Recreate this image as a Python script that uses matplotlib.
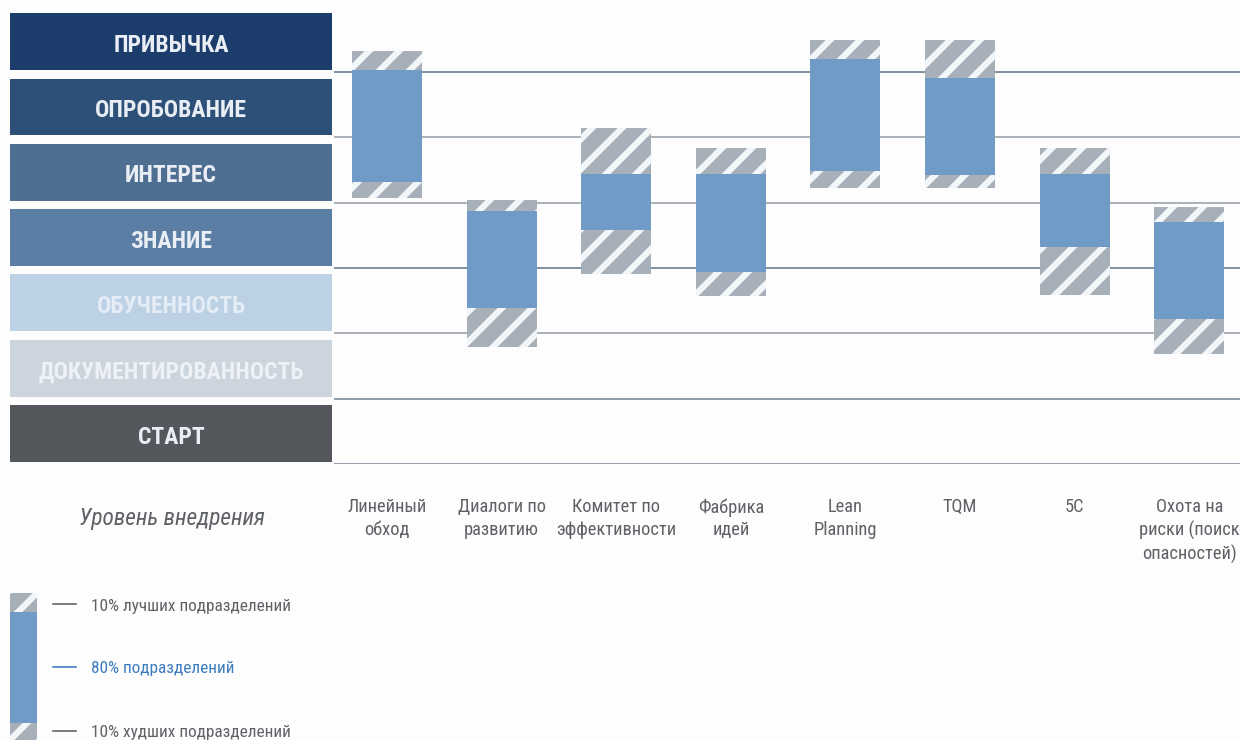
import numpy as np
import matplotlib
import matplotlib.pyplot as plt
from matplotlib import font_manager as fm
matplotlib.use('Agg')

plt.rcParams['hatch.linewidth'] = 5.0

# data (levels: 0 = СТАРТ ... 6 = ПРИВЫЧКА)
levels = ['СТАРТ', 'ДОКУМЕНТИРОВАННОСТЬ', 'ОБУЧЕННОСТЬ', 'ЗНАНИЕ',
          'ИНТЕРЕС', 'ОПРОБОВАНИЕ', 'ПРИВЫЧКА']
level_colors = ['#54585c', '#ccd5de', '#bdd1e5', '#5a7ea4',
                '#4e6f92', '#2d5079', '#1c3d6b']
level_text = ['#e9eef5', '#eef2f6', '#e4ecf5', '#e9eef5',
              '#e9eef5', '#e9eef5', '#e9eef5']

categories = ['Линейный\nобход', 'Диалоги по\nразвитию', 'Комитет по\nэффективности',
              'Фабрика\nидей', 'Lean\nPlanning', 'TQM', '5C',
              'Охота на\nриски (поиск\nопасностей)']
best = np.array([6.32, 4.04, 5.15, 4.84, 6.49, 6.49, 4.84, 3.93])
p90 = np.array([6.03, 3.87, 4.44, 4.44, 6.20, 5.91, 4.44, 3.70])
p10 = np.array([4.32, 2.38, 3.58, 2.94, 4.48, 4.42, 3.32, 2.22])
worst = np.array([4.07, 1.79, 2.90, 2.57, 4.22, 4.23, 2.58, 1.68])

legend_labels = ['10% лучших подразделений', '80% подразделений',
                 '10% худших подразделений']

BLUE = '#6f9bc6'
HATCH_BG = '#a7b0b9'
STRIPE = '#f3f6f9'
TXT = '#5e6166'


def find_font(bold=False, italic=False):
    # look for a narrow / condensed face, else plain DejaVu Sans
    prefs = ['robotocondensed', 'liberationsansnarrow', 'notosans-condensed',
             'dejavusanscondensed', 'condensed', 'narrow']
    best_f, best_score = None, None
    for f in fm.fontManager.ttflist:
        fn = f.fname.lower().replace(' ', '')
        base = fn.split('/')[-1]
        if 'condensed' not in base and 'narrow' not in base:
            continue
        if 'semicondensed' in base or 'extracondensed' in base:
            continue
        if 'mono' in base or 'serif' in base:
            continue
        w = f.weight if isinstance(f.weight, int) else (700 if 'bold' in str(f.weight) else 400)
        is_bold = w >= 600 and 'semibold' not in base and 'extrabold' not in base
        is_it = f.style in ('italic', 'oblique')
        if is_bold != bold or is_it != italic:
            continue
        score = next(i for i, p in enumerate(prefs) if p in base)
        if best_score is None or score < best_score:
            best_f, best_score = f, score
    if best_f is None:
        return fm.FontProperties(family='DejaVu Sans',
                                 weight='bold' if bold else 'normal',
                                 style='italic' if italic else 'normal')
    return fm.FontProperties(fname=best_f.fname)


fp_box = find_font(bold=True)
fp_reg = find_font()
fp_it = find_font(italic=True)

# dpi 90 so that the '/' hatch gets ~15 px between stripes
W, H, DPI = 1240, 741, 90
fig = plt.figure(figsize=(W / DPI, H / DPI), dpi=DPI, facecolor='#fdfdfd')
renderer = fig.canvas.get_renderer()


def fit(t, target_px, max_size):
    # shrink a text so its width is about target_px
    t.set_fontsize(max_size)
    w = t.get_window_extent(renderer).width
    if w > target_px:
        t.set_fontsize(max_size * target_px / w)
    return t.get_fontsize()


# main chart
ax = fig.add_axes([334 / W, 1 - 464.8 / H, 906 / W, 457 / H])
ax.set_facecolor('none')
x = np.arange(len(categories))
line_colors = ['#8f9aa6', '#8a97a6', '#a6aeb6', '#7d8c9e',
               '#a6aeb6', '#a6aeb6', '#7d8c9e']
for lv in range(7):
    ax.axhline(lv, color=line_colors[lv], lw=1.5, zorder=1)

bw = 0.61
ax.bar(x, best - p90, bottom=p90, width=bw, color=HATCH_BG, edgecolor=STRIPE,
       hatch='/', lw=0, zorder=2)
ax.bar(x, p90 - p10, bottom=p10, width=bw, color=BLUE, lw=0, zorder=2)
ax.bar(x, p10 - worst, bottom=worst, width=bw, color=HATCH_BG, edgecolor=STRIPE,
       hatch='/', lw=0, zorder=2)

ax.set_xlim(-0.4625, 7.443)
ax.set_ylim(0, 7)
ax.set_xticks(x, categories)
ax.tick_params(axis='x', length=0, pad=26.7)
ax.set_yticks([])
for s in ax.spines.values():
    s.set_visible(False)

# size of category labels: "эффективности" should be ~119 px wide
probe = fig.text(0, 0, 'эффективности', fontproperties=fp_reg)
cat_size = fit(probe, 119, 16.8)
probe.remove()
for lab in ax.get_xticklabels():
    lab.set_fontproperties(fp_reg)
    lab.set_fontsize(cat_size)
    lab.set_color(TXT)
    lab.set_linespacing(1.32)

# level boxes on the left
axl = fig.add_axes([10 / W, 1 - 464.8 / H, 322 / W, 457 / H])
axl.set_xlim(0, 1)
axl.set_ylim(0, 7)
axl.axis('off')
ypos = np.arange(len(levels)) + 0.465
axl.barh(ypos, 1, height=0.87, left=0, color=level_colors, lw=0)
box_texts = []
for y, name, tc in zip(ypos, levels, level_text):
    box_texts.append(axl.text(0.5, y - 0.04, name, ha='center', va='center',
                              color=tc, fontproperties=fp_box))
box_size = fit(box_texts[1], 265, 24)
for t in box_texts:
    t.set_fontsize(box_size)

t = fig.text(172 / W, 1 - 518 / H, 'Уровень внедрения', ha='center', va='center',
             fontproperties=fp_it, color=TXT)
fit(t, 186, 21.3)

# legend key
axg = fig.add_axes([0, 0, 320 / W, 161 / H])
axg.set_xlim(0, 320)
axg.set_ylim(161, 0)
axg.axis('off')
axg.bar(23.5, 19, bottom=14, width=27, color=HATCH_BG, edgecolor=STRIPE,
        hatch='/', lw=0)
axg.bar(23.5, 111, bottom=33, width=27, color=BLUE, lw=0)
axg.bar(23.5, 20, bottom=144, width=27, color=HATCH_BG, edgecolor=STRIPE,
        hatch='/', lw=0)
leg_texts = []
for yy, lab, col in zip([25, 88, 152], legend_labels, [TXT, '#3d7cc0', TXT]):
    axg.plot([53, 76], [yy, yy], color=col, lw=1.3)
    leg_texts.append(axg.text(91, yy + 1, lab, ha='left', va='center',
                              fontproperties=fp_reg, color=col))
leg_size = fit(leg_texts[0], 200, 16.7)
for t in leg_texts:
    t.set_fontsize(leg_size)

fig.savefig('out.png', dpi=DPI, facecolor=fig.get_facecolor())
